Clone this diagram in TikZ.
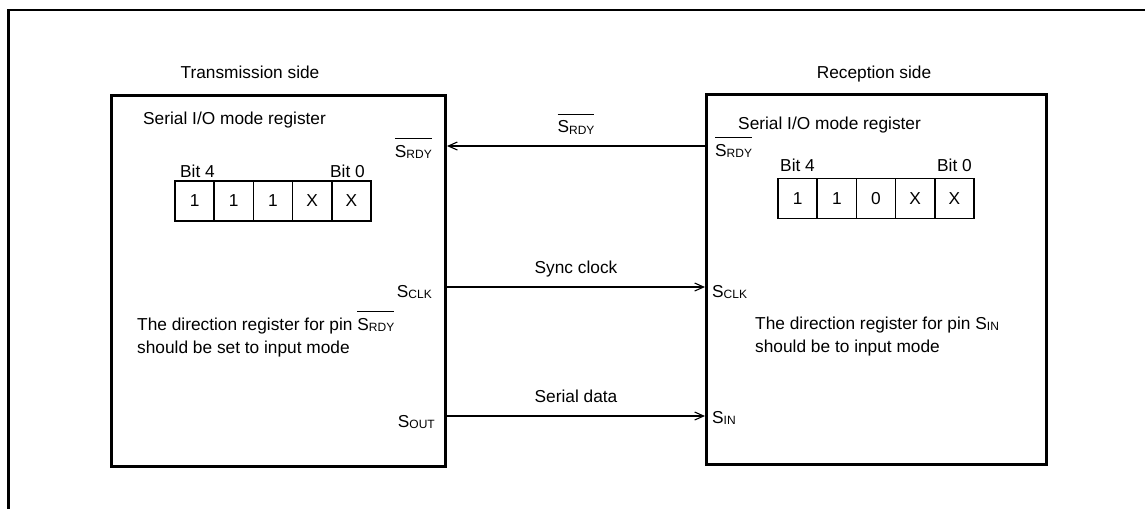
\documentclass[tikz,border=0pt]{standalone}
\usepackage{fontspec}
\setmainfont{Liberation Sans}
\usetikzlibrary{arrows.meta}
\newcommand{\pinsub}[1]{S\raisebox{-1.5pt}{\fontsize{12}{12}\selectfont #1}}
\newcommand{\barred}[1]{\leavevmode\vbox{\hrule height 1.1pt\kern 6pt\hbox{#1}}}
\begin{document}
\begin{tikzpicture}[x=1pt,y=-1pt,
  font=\fontsize{17.3}{23}\selectfont,
  box/.style={draw, line width=3pt, inner sep=0pt, anchor=north west},
  cell/.style={draw, line width=1.6pt, minimum width=39.2pt, minimum height=40pt, inner sep=0pt},
  lbl/.style={inner sep=0pt},
  conn/.style={line width=1.1pt},
  arr/.style={conn, -{Straight Barb[length=9pt,width=8pt]}},
  frame/.style={line width=2.4pt},
  linelbl/.style={inner sep=0pt, text depth=0pt, above=12.5pt}]
\useasboundingbox (0,0) rectangle (1145,509);
% outer frame (cut by the picture edge)
\draw[frame] (1145,10) -- (8.4,10) -- (8.4,509);

% side titles
\node[lbl, anchor=base] (ttx) at (250,78) {Transmission side};
\node[lbl, anchor=base] (trx) at (874,78) {Reception side};

% boxes
\node[box, minimum width=334pt, minimum height=371pt] (lbox) at (110,94) {};
\node[box, minimum width=340pt, minimum height=370pt] (rbox) at (705,93) {};

% register titles
\node[lbl, anchor=base west] (lreg) at (143,124) {Serial I/O mode register};
\node[lbl, anchor=base west] (rreg) at (738,129) {Serial I/O mode register};

% registers
\foreach \v [count=\i from 0] in {1,1,1,X,X}
  \node[cell] (lc\i) at ({194.6+39.2*\i},201) {\v};
\foreach \v [count=\i from 0] in {1,1,0,X,X}
  \node[cell] (rc\i) at ({797.6+39.2*\i},198.5) {\v};
\node[lbl, anchor=base west] (lb4) at (180,177) {Bit 4};
\node[lbl, anchor=base east] (lb0) at (365,177) {Bit 0};
\node[lbl, anchor=base west] (rb4) at (780,171) {Bit 4};
\node[lbl, anchor=base east] (rb0) at (972,171) {Bit 0};

% pin labels
\node[lbl, anchor=base east] (lrdyl) at (432,157) {\barred{\pinsub{RDY}}};
\node[lbl, anchor=base east] (lclkl) at (432,297) {\pinsub{CLK}};
\node[lbl, anchor=base east] (loutl) at (435,427) {\pinsub{OUT}};
\node[lbl, anchor=base west] (rrdyl) at (715,156) {\barred{\pinsub{RDY}}};
\node[lbl, anchor=base west] (rclkl) at (712,297) {\pinsub{CLK}};
\node[lbl, anchor=base west] (rinl) at (712,423) {\pinsub{IN}};

% notes (base anchor = baseline of the last line)
\node[lbl, anchor=base west, align=left] (lnote) at (137,353)
  {The direction register for pin \barred{\pinsub{RDY}}\\should be set to input mode};
\node[lbl, anchor=base west, align=left] (rnote) at (755,352)
  {The direction register for pin \pinsub{IN}\\should be to input mode};

% connector end points on the box edges
\coordinate (lrdy) at (lbox.east |- 0,146);
\coordinate (rrdy) at (rbox.west |- 0,146);
\coordinate (lclk) at (lbox.east |- 0,287);
\coordinate (rclk) at (rbox.west |- 0,287);
\coordinate (lout) at (lbox.east |- 0,416);
\coordinate (rin)  at (rbox.west |- 0,416);

\draw[arr] (rrdy) -- node[linelbl] (srdy) {\barred{\pinsub{RDY}}} (lrdy);
\draw[arr] (lclk) -- node[linelbl] (sclk) {Sync clock} (rclk);
\draw[arr] (lout) -- node[linelbl] (sdat) {Serial data} (rin);
\end{tikzpicture}
\end{document}
